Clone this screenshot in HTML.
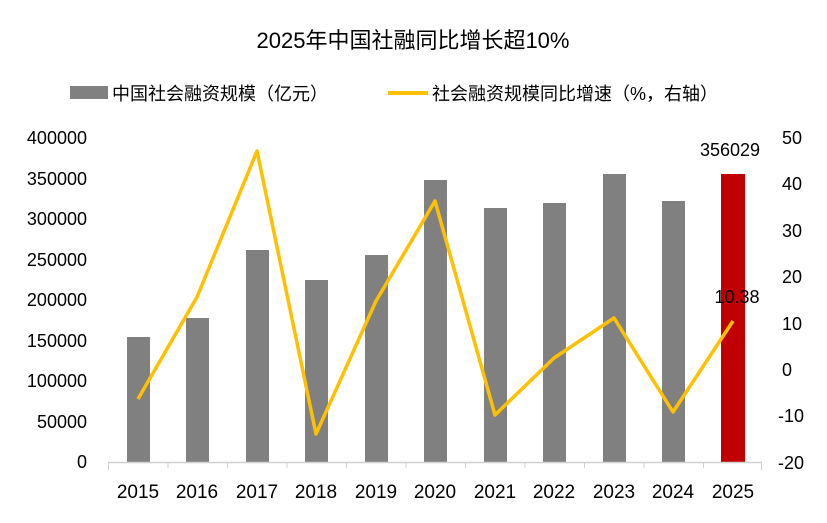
<!DOCTYPE html>
<html><head><meta charset="utf-8"><style>
body{margin:0;background:#fff;}
svg text{font-family:"Liberation Sans","Noto Sans CJK SC",sans-serif;fill:#000;}
</style></head><body>
<svg width="827" height="518" viewBox="0 0 827 518" xmlns="http://www.w3.org/2000/svg">
<text x="413" y="48" font-size="22" text-anchor="middle">2025年中国社融同比增长超10%</text>
<rect x="70" y="86" width="38" height="13" fill="#808080"/>
<text x="112" y="100" font-size="18">中国社会融资规模（亿元）</text>
<line x1="388" y1="93" x2="428" y2="93" stroke="#FFC000" stroke-width="4"/>
<text x="432" y="100" font-size="18">社会融资规模同比增速（%，右轴）</text>
<g font-size="18" text-anchor="end" textLength="70">
<text x="87" y="144">400000</text><text x="87" y="185">350000</text><text x="87" y="225">300000</text>
<text x="87" y="266">250000</text><text x="87" y="306">200000</text><text x="87" y="347">150000</text>
<text x="87" y="387">100000</text><text x="87" y="428">50000</text><text x="87" y="468">0</text>
</g>
<g font-size="18">
<text x="782" y="144">50</text><text x="782" y="190">40</text><text x="782" y="237">30</text>
<text x="782" y="283">20</text><text x="782" y="330">10</text><text x="782" y="376">0</text>
<text x="778" y="422">-10</text><text x="778" y="469">-20</text>
</g>
<g fill="#808080">
<rect x="127" y="337" width="23" height="125"/>
<rect x="186" y="318" width="23" height="144"/>
<rect x="246" y="250" width="23" height="212"/>
<rect x="305" y="280" width="23" height="182"/>
<rect x="365" y="255" width="23" height="207"/>
<rect x="424" y="180" width="23" height="282"/>
<rect x="484" y="208" width="23" height="254"/>
<rect x="543" y="203" width="23" height="259"/>
<rect x="603" y="174" width="23" height="288"/>
<rect x="662" y="201" width="23" height="261"/>
</g>
<rect x="721" y="174" width="24" height="288" fill="#C00000"/>
<line x1="108" y1="462.5" x2="762" y2="462.5" stroke="#d0d0d0" stroke-width="1.5"/>
<g stroke="#d0d0d0" stroke-width="1">
<line x1="108.5" y1="462" x2="108.5" y2="470"/><line x1="168" y1="462" x2="168" y2="468"/><line x1="227.5" y1="462" x2="227.5" y2="468"/>
<line x1="287" y1="462" x2="287" y2="468"/><line x1="346.5" y1="462" x2="346.5" y2="468"/><line x1="406" y1="462" x2="406" y2="468"/>
<line x1="465.5" y1="462" x2="465.5" y2="468"/><line x1="525" y1="462" x2="525" y2="468"/><line x1="584.5" y1="462" x2="584.5" y2="468"/>
<line x1="644" y1="462" x2="644" y2="468"/><line x1="703.5" y1="462" x2="703.5" y2="468"/><line x1="761.5" y1="462" x2="761.5" y2="470"/>
</g>
<polyline fill="none" stroke="#FFC000" stroke-width="3.5" stroke-linejoin="round" points="138,399 197,297 257,151 316,434 376,301 435,201 495,415 554,358 614,318 673,412 733,321"/>
<g font-size="19" text-anchor="middle">
<text x="138" y="498">2015</text><text x="197" y="498">2016</text><text x="257" y="498">2017</text>
<text x="316" y="498">2018</text><text x="376" y="498">2019</text><text x="435" y="498">2020</text>
<text x="495" y="498">2021</text><text x="554" y="498">2022</text><text x="614" y="498">2023</text>
<text x="673" y="498">2024</text><text x="733" y="498">2025</text>
</g>
<g font-size="18" text-anchor="middle">
<text x="730" y="156">356029</text><text x="737" y="303">10.38</text>
</g>
</svg>
</body></html>
